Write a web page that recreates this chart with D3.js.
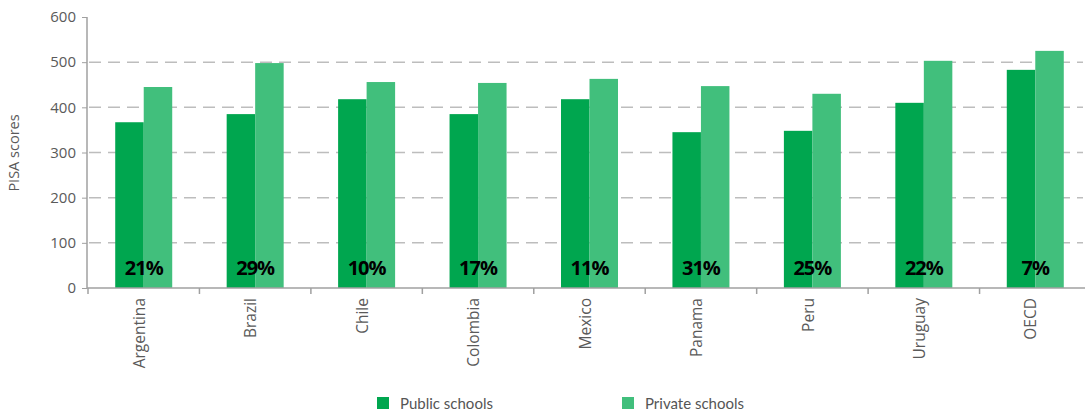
<!DOCTYPE html>
<html><head><meta charset="utf-8">
<script src="https://cdn.jsdelivr.net/npm/d3@7"></script>
<style>body{margin:0;background:#fff}svg{display:block}</style>
</head><body>
<svg id="c" width="1085" height="413"></svg>
<script>
const categories = ["Argentina","Brazil","Chile","Colombia","Mexico","Panama","Peru","Uruguay","OECD"];
const publicScores = [367, 385, 418, 385, 418, 345, 348, 410, 483];
const privateScores = [445, 498, 456, 454, 463, 447, 430, 503, 525];
const gapLabels = ["21%","29%","10%","17%","11%","31%","25%","22%","7%"];
const yTicks = [0,100,200,300,400,500,600];
const seriesNames = ["Public schools","Private schools"];
const colors = ["#00A64F","#41BF7C"];

const svg = d3.select("#c");
const x0 = 87, x1 = 1090, yTop = 17, yBot = 288;
const x = d3.scaleBand().domain(categories).range([x0, x1]).paddingInner(0).paddingOuter(0);
const y = d3.scaleLinear().domain([0,600]).range([yBot, yTop]);
const barW = 28.5;
const font = "'Open Sans', 'Noto Sans', sans-serif";

// gridlines
svg.append("g").selectAll("line").data(yTicks.filter(d=>d>0 && d<600)).join("line")
  .attr("x1", x0+2).attr("x2", 1083)
  .attr("y1", d=>y(d)).attr("y2", d=>y(d))
  .attr("stroke","#bdbdbd").attr("stroke-width",1.5).attr("stroke-dasharray","12,7");

// bars
const g = svg.append("g");
categories.forEach((c,i)=>{
  const cx = x(c) + x.bandwidth()/2 + 1;
  g.append("rect").attr("x", cx - barW).attr("width", barW)
    .attr("y", y(publicScores[i])).attr("height", yBot - y(publicScores[i])).attr("fill", colors[0]);
  g.append("rect").attr("x", cx).attr("width", barW)
    .attr("y", y(privateScores[i])).attr("height", yBot - y(privateScores[i])).attr("fill", colors[1]);
  g.append("text").attr("x", cx).attr("y", 275).attr("text-anchor","middle")
    .attr("font-family", font).attr("font-weight","bold").attr("font-size",20)
    .attr("letter-spacing","-1").attr("fill","#000").text(gapLabels[i]);
});

// y axis
const ya = svg.append("g").attr("transform",`translate(${x0},0)`)
  .call(d3.axisLeft(y).tickValues(yTicks).tickSize(5).tickPadding(6));
ya.select(".domain").attr("stroke","#a0a0a0").attr("stroke-width",1.5).attr("d",`M0,${yTop}V${yBot}`);
ya.selectAll(".tick line").attr("stroke","#a0a0a0");
ya.selectAll("text").attr("font-family",font).attr("font-size",15).attr("fill","#5a5a5a");

// x axis
const xa = svg.append("g").attr("transform",`translate(0,${yBot})`)
  .call(d3.axisBottom(x).tickSize(0));
xa.select(".domain").attr("stroke","#a0a0a0").attr("stroke-width",1.5).attr("d",`M${x0},0H1085`);
// boundary ticks
svg.append("g").selectAll("line").data(categories).join("line")
  .attr("x1", d=>x(d)+1).attr("x2", d=>x(d)+1).attr("y1", yBot).attr("y2", yBot+6)
  .attr("stroke","#a0a0a0").attr("stroke-width",1.5);
xa.selectAll(".tick text")
  .attr("font-family",font).attr("font-size",15.5).attr("fill","#5a5a5a")
  .attr("text-anchor","end").attr("dy",null)
  .attr("transform","translate(-2,10) rotate(-90)").attr("dominant-baseline","middle").attr("x",0).attr("y",0);

// y axis title
svg.append("text").attr("transform","translate(19,153) rotate(-90)")
  .attr("text-anchor","middle").attr("font-family",font).attr("font-size",14.5).attr("fill","#5a5a5a")
  .text("PISA scores");

// legend
const lx = [377, 622];
seriesNames.forEach((s,i)=>{
  svg.append("rect").attr("x", lx[i]).attr("y", 397).attr("width",12).attr("height",12).attr("fill",colors[i]);
  svg.append("text").attr("x", lx[i]+23).attr("y", 409).attr("font-family","Lato, 'Open Sans', sans-serif")
    .attr("font-size",15).attr("fill","#555").text(s);
});
</script>
</body></html>
